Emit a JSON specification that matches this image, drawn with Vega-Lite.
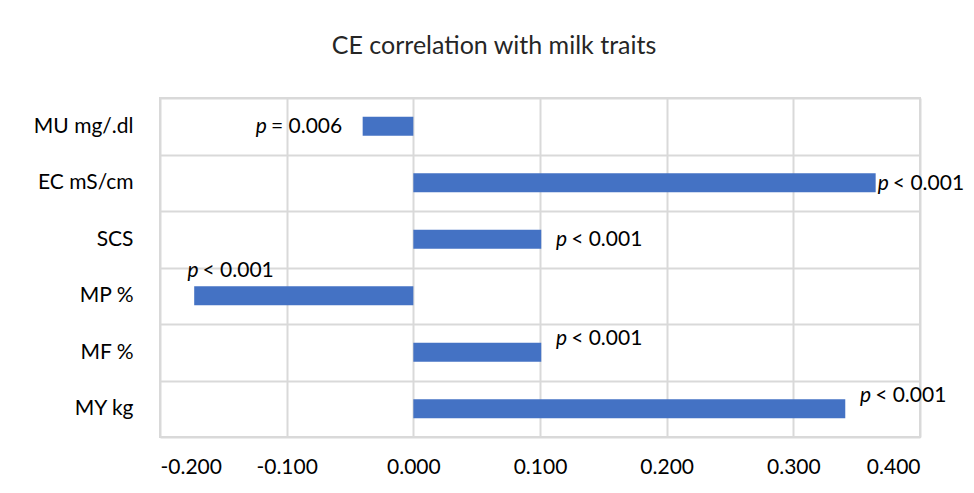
{
  "$schema": "https://vega.github.io/schema/vega-lite/v6.json",
  "width": 760,
  "height": 339,
  "autosize": {"type": "none"},
  "padding": {"left": 160, "top": 98, "right": 54, "bottom": 56},
  "background": "white",
  "title": {"text": "CE correlation with milk traits", "fontSize": 25, "fontWeight": "normal", "font": "Lato", "color": "#262626", "anchor": "middle", "frame": "group", "dx": -46, "offset": 28},
  "data": {"values": [
    {"trait": "MU mg/.dl", "r": -0.040, "sign": "= 0.006", "lx": -0.114},
    {"trait": "EC mS/cm", "r": 0.365, "sign": "< 0.001", "lx": 0.377},
    {"trait": "SCS", "r": 0.101, "sign": "< 0.001", "lx": 0.123},
    {"trait": "MP %", "r": -0.173, "sign": "< 0.001", "lx": -0.168},
    {"trait": "MF %", "r": 0.101, "sign": "< 0.001", "lx": 0.123},
    {"trait": "MY kg", "r": 0.341, "sign": "< 0.001", "lx": 0.363}
  ]},
  "encoding": {
    "y": {"field": "trait", "type": "nominal", "sort": null, "title": null,
      "scale": {"paddingInner": 0, "paddingOuter": 0},
      "axis": {"ticks": false, "domain": false, "grid": true, "tickBand": "extent", "gridColor": "#d9d9d9", "gridWidth": 2, "labelFontSize": 21, "labelFont": "Lato", "labelColor": "#000000", "labelPadding": 27}}
  },
  "layer": [
    {
      "mark": {"type": "bar", "color": "#4472C4", "height": {"band": 0.34}},
      "encoding": {
        "x": {"field": "r", "type": "quantitative", "title": null,
          "scale": {"domain": [-0.2, 0.4], "nice": false, "zero": false},
          "axis": {"values": [-0.2, -0.1, 0, 0.1, 0.2, 0.3, 0.4], "labelExpr": "datum.value < 0 ? '-' + format(-datum.value, '.3f') : format(datum.value, '.3f')", "ticks": false, "domain": false, "gridColor": "#d9d9d9", "gridWidth": 2, "labelFontSize": 21, "labelFont": "Lato", "labelColor": "#000000", "labelPadding": 19}}
      }
    },
    {
      "transform": [{"filter": {"field": "trait", "oneOf": ["MU mg/.dl", "EC mS/cm", "SCS"]}}],
      "mark": {"type": "text", "text": "p", "fontStyle": "italic", "font": "Lato", "fontSize": 21, "align": "right", "baseline": "middle", "dx": -2, "color": "#000000"},
      "encoding": {"x": {"field": "lx", "type": "quantitative"}, "y": {"field": "trait", "type": "nominal", "sort": null, "bandPosition": 0.52}}
    },
    {
      "transform": [{"filter": {"field": "trait", "oneOf": ["MU mg/.dl", "EC mS/cm", "SCS"]}}],
      "mark": {"type": "text", "font": "Lato", "fontSize": 21, "align": "left", "baseline": "middle", "dx": 2, "color": "#000000"},
      "encoding": {"x": {"field": "lx", "type": "quantitative"}, "y": {"field": "trait", "type": "nominal", "sort": null, "bandPosition": 0.52}, "text": {"field": "sign"}}
    },
    {
      "transform": [{"filter": {"field": "trait", "oneOf": ["MF %", "MY kg"]}}],
      "mark": {"type": "text", "text": "p", "fontStyle": "italic", "font": "Lato", "fontSize": 21, "align": "right", "baseline": "middle", "dx": -2, "color": "#000000"},
      "encoding": {"x": {"field": "lx", "type": "quantitative"}, "y": {"field": "trait", "type": "nominal", "sort": null, "bandPosition": 0.27}}
    },
    {
      "transform": [{"filter": {"field": "trait", "oneOf": ["MF %", "MY kg"]}}],
      "mark": {"type": "text", "font": "Lato", "fontSize": 21, "align": "left", "baseline": "middle", "dx": 2, "color": "#000000"},
      "encoding": {"x": {"field": "lx", "type": "quantitative"}, "y": {"field": "trait", "type": "nominal", "sort": null, "bandPosition": 0.27}, "text": {"field": "sign"}}
    },
    {
      "transform": [{"filter": {"field": "trait", "oneOf": ["MP %"]}}],
      "mark": {"type": "text", "text": "p", "fontStyle": "italic", "font": "Lato", "fontSize": 21, "align": "right", "baseline": "middle", "dx": -2, "color": "#000000"},
      "encoding": {"x": {"field": "lx", "type": "quantitative"}, "y": {"field": "trait", "type": "nominal", "sort": null, "bandPosition": 0.07}}
    },
    {
      "transform": [{"filter": {"field": "trait", "oneOf": ["MP %"]}}],
      "mark": {"type": "text", "font": "Lato", "fontSize": 21, "align": "left", "baseline": "middle", "dx": 2, "color": "#000000"},
      "encoding": {"x": {"field": "lx", "type": "quantitative"}, "y": {"field": "trait", "type": "nominal", "sort": null, "bandPosition": 0.07}, "text": {"field": "sign"}}
    }
  ],
  "config": {"view": {"stroke": "#d9d9d9", "strokeWidth": 2}}
}
